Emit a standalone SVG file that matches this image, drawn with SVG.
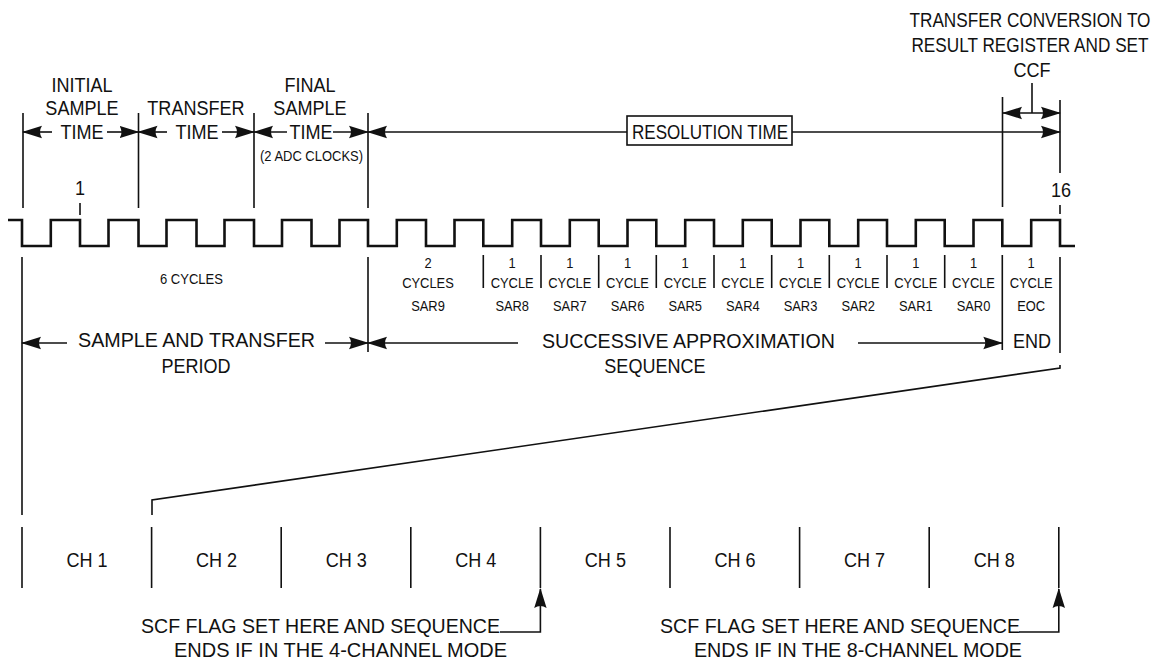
<svg xmlns="http://www.w3.org/2000/svg" width="1161" height="660" viewBox="0 0 1161 660">
<style>
text{font-family:"Liberation Sans",Arial,sans-serif;fill:#111;text-anchor:middle;transform-box:fill-box;transform-origin:center;transform:scaleX(0.86)}
text.t{transform:none}
.b{font-size:21px}
.tb{font-size:20px}
.s{font-size:15px}
.xs{font-size:14.5px}
.ln{fill:none;stroke:#111;stroke-width:1.6}
.clk{fill:none;stroke:#111;stroke-width:2.6;stroke-linejoin:miter}
.bx{fill:#fff;stroke:#111;stroke-width:1.6}
.a2{marker-start:url(#ah);marker-end:url(#ah)}
.ae{marker-end:url(#ah)}
.as{marker-start:url(#ah)}
</style>
<defs>
<marker id="ah" viewBox="0 0 20 14" refX="19" refY="7" markerWidth="20" markerHeight="14" orient="auto-start-reverse" markerUnits="userSpaceOnUse">
<path d="M20,7 L0,0.8 Q4,7 0,13.2 Z" fill="#111"/>
</marker>
</defs>

<g id="clock">
<path class="clk" d="M8,220 H22 V246 H50.8 V220 H80 V246 H108.5 V220 H138.5 V246 H166.5 V220 H196.5 V246 H224.5 V220 H254 V246 H282 V220 H311.5 V246 H339.5 V220 H368 V246 H396.8 V220 H426 V246 H454.5 V220 H483.3 V246 H512.2 V220 H541 V246 H569.8 V220 H598.7 V246 H627.5 V220 H656.3 V246 H685.2 V220 H714 V246 H742.8 V220 H771.7 V246 H800.5 V220 H829.3 V246 H858.2 V220 H887 V246 H915.8 V220 H944.7 V246 H973.5 V220 H1002.3 V246 H1031.2 V220 H1060 V246 H1075"/>
<path class="ln" d="M80,203 V215 M1060,205 V214"/>
<text class="b" x="80" y="195">1</text>
<text class="b" x="1061" y="197">16</text>
</g>

<g id="top-annotation">
<text class="tb" x="1030" y="27">TRANSFER CONVERSION TO</text>
<text class="tb" x="1030" y="52">RESULT REGISTER AND SET</text>
<text class="b" x="1032" y="77">CCF</text>
</g>

<g id="initial-sample-time">
<text class="b" x="82" y="92">INITIAL</text>
<text class="b" x="82" y="115">SAMPLE</text>
<text class="b" x="82" y="139">TIME</text>
</g>
<g id="transfer-time">
<text class="b" x="196" y="115">TRANSFER</text>
<text class="b" x="197" y="139">TIME</text>
</g>
<g id="final-sample-time">
<text class="b" x="310" y="92">FINAL</text>
<text class="b" x="310" y="115">SAMPLE</text>
<text class="b" x="311" y="139">TIME</text>
<text class="xs t" x="311.5" y="161" textLength="103" lengthAdjust="spacingAndGlyphs">(2 ADC CLOCKS)</text>
</g>
<g id="resolution-time">
<rect class="bx" x="627" y="116" width="165" height="29"/>
<text class="b t" x="710" y="139" textLength="156" lengthAdjust="spacingAndGlyphs">RESOLUTION TIME</text>
</g>

<g id="cycle-labels">
<text class="xs t" x="191.5" y="284" textLength="63" lengthAdjust="spacingAndGlyphs">6 CYCLES</text>
<text class="s" x="428" y="268">2</text>
<text class="s" x="428" y="288">CYCLES</text>
<text class="s" x="428" y="311">SAR9</text>
<text class="s" x="512.2" y="268">1</text><text class="s" x="512.2" y="288">CYCLE</text><text class="s" x="512.2" y="311">SAR8</text>
<text class="s" x="569.8" y="268">1</text><text class="s" x="569.8" y="288">CYCLE</text><text class="s" x="569.8" y="311">SAR7</text>
<text class="s" x="627.5" y="268">1</text><text class="s" x="627.5" y="288">CYCLE</text><text class="s" x="627.5" y="311">SAR6</text>
<text class="s" x="685.2" y="268">1</text><text class="s" x="685.2" y="288">CYCLE</text><text class="s" x="685.2" y="311">SAR5</text>
<text class="s" x="742.8" y="268">1</text><text class="s" x="742.8" y="288">CYCLE</text><text class="s" x="742.8" y="311">SAR4</text>
<text class="s" x="800.5" y="268">1</text><text class="s" x="800.5" y="288">CYCLE</text><text class="s" x="800.5" y="311">SAR3</text>
<text class="s" x="858.2" y="268">1</text><text class="s" x="858.2" y="288">CYCLE</text><text class="s" x="858.2" y="311">SAR2</text>
<text class="s" x="915.8" y="268">1</text><text class="s" x="915.8" y="288">CYCLE</text><text class="s" x="915.8" y="311">SAR1</text>
<text class="s" x="973.5" y="268">1</text><text class="s" x="973.5" y="288">CYCLE</text><text class="s" x="973.5" y="311">SAR0</text>
<text class="s" x="1031.2" y="268">1</text><text class="s" x="1031.2" y="288">CYCLE</text><text class="s" x="1031.2" y="311">EOC</text>
</g>

<g id="periods">
<text class="b t" x="196.5" y="347" textLength="237" lengthAdjust="spacingAndGlyphs">SAMPLE AND TRANSFER</text>
<text class="b" x="196" y="373">PERIOD</text>
<text class="b t" x="688.5" y="348" textLength="293" lengthAdjust="spacingAndGlyphs">SUCCESSIVE APPROXIMATION</text>
<text class="b" x="655" y="373">SEQUENCE</text>
<text class="b" x="1032" y="348">END</text>
</g>

<g id="channels">
<text class="b" x="87" y="567">CH 1</text>
<text class="b" x="216.6" y="567">CH 2</text>
<text class="b" x="346.2" y="567">CH 3</text>
<text class="b" x="475.8" y="567">CH 4</text>
<text class="b" x="605.4" y="567">CH 5</text>
<text class="b" x="735" y="567">CH 6</text>
<text class="b" x="864.6" y="567">CH 7</text>
<text class="b" x="994.2" y="567">CH 8</text>
</g>

<g id="scf-4">
<text class="b t" x="320.5" y="633" textLength="359" lengthAdjust="spacingAndGlyphs">SCF FLAG SET HERE AND SEQUENCE</text>
<text class="b t" x="340.5" y="657" textLength="333" lengthAdjust="spacingAndGlyphs">ENDS IF IN THE 4-CHANNEL MODE</text>
</g>
<g id="scf-8">
<text class="b t" x="840" y="633" textLength="360" lengthAdjust="spacingAndGlyphs">SCF FLAG SET HERE AND SEQUENCE</text>
<text class="b t" x="858" y="657" textLength="328" lengthAdjust="spacingAndGlyphs">ENDS IF IN THE 8-CHANNEL MODE</text>
</g>

<g id="connectors">
<path class="ln" d="M23,113 V208 M138.5,113 V208 M254,113 V208 M368,113 V208 M1002.5,97 V207 M1060,100 V173"/>
<path class="ln" d="M1032,83 V113"/>
<line class="ln a2" x1="1003" y1="113" x2="1060" y2="113"/>
<line class="ln as" x1="23" y1="132" x2="52" y2="132"/>
<line class="ln ae" x1="107" y1="132" x2="138.5" y2="132"/>
<line class="ln as" x1="138.5" y1="132" x2="167" y2="132"/>
<line class="ln ae" x1="222" y1="132" x2="254" y2="132"/>
<line class="ln as" x1="254" y1="132" x2="287" y2="132"/>
<line class="ln ae" x1="333" y1="132" x2="368" y2="132"/>
<line class="ln as" x1="368" y1="132" x2="627" y2="132"/>
<line class="ln ae" x1="792" y1="132" x2="1060" y2="132"/>
<path class="ln" d="M483.3,255 V288 M541,255 V288 M598.7,255 V288 M656.3,255 V288 M714,255 V288 M771.7,255 V288 M829.3,255 V288 M887,255 V288 M944.7,255 V288 M1002.3,255 V350 M1060,257 V353"/>
<path class="ln" d="M22,257 V515 M368,257 V352"/>
<line class="ln as" x1="22" y1="343" x2="67" y2="343"/>
<line class="ln ae" x1="325" y1="343" x2="368" y2="343"/>
<line class="ln as" x1="368" y1="343" x2="518" y2="343"/>
<line class="ln ae" x1="858" y1="343" x2="1002.3" y2="343"/>
<polyline class="ln" points="1060,365 1060,368 152,500 152,515"/>
<path class="ln" d="M22,527 V588 M151.6,527 V588 M281.2,527 V588 M410.8,527 V588 M540.4,527 V588 M670,527 V588 M799.6,527 V588 M929.2,527 V588 M1058.8,527 V588"/>
<polyline class="ln ae" points="500,632 540.4,632 540.4,589"/>
<polyline class="ln ae" points="1019,632 1058.8,632 1058.8,589"/>
</g>
</svg>
